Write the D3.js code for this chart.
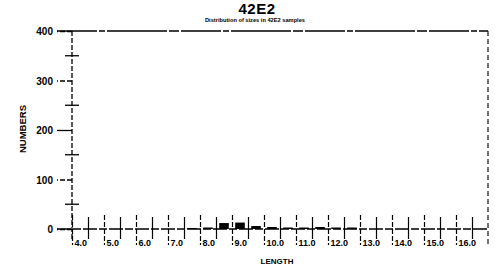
<!DOCTYPE html>
<html>
<head>
<meta charset="utf-8">
<script src="https://cdn.jsdelivr.net/npm/d3@7"></script>
<style>
    body { margin: 0; background: #fff; }
    svg { display: block; font-family: "Liberation Sans", Arial, sans-serif; }
</style>
</head>
<body>
<div class="bar-chart-container"></div>
<script>
// Data.
const binStarts = [7.5, 8.0, 8.5, 9.0, 9.5, 10.0, 10.5, 11.0, 11.5, 12.0, 12.5];
const binCounts = [2, 3, 12, 13, 6, 4, 3, 3, 4, 3, 3];
const xTickValues = [4, 4.5, 5, 5.5, 6, 6.5, 7, 7.5, 8, 8.5, 9, 9.5, 10, 10.5, 11, 11.5, 12, 12.5, 13, 13.5, 14, 14.5, 15, 15.5, 16, 16.5];
const yTickValues = [0, 100, 200, 300, 400];
const yMinorValues = [50, 150, 250, 350];
const titleText = '42E2';
const subtitleText = 'Distribution of sizes in 42E2 samples';
const xLabel = 'LENGTH';
const yLabel = 'NUMBERS';

const svg = d3
    .select('.bar-chart-container')
    .append('svg')
    .attr('width', 500)
    .attr('height', 273);

function baseDimension() {
    return { left: 72, right: 488, top: 31, bottom: 229 };
}

function ready() {
    const area = baseDimension();
    const binWidth = 0.5;

    const xScale = d3.scaleLinear()
        .domain([4, 17])
        .range([area.left, area.right]);

    const yScale = d3.scaleLinear()
        .domain([0, 400])
        .range([area.bottom, area.top]);

    drawHeader(area);
    drawAxis(xScale, yScale, area);
    drawBars(xScale, yScale, binWidth);
}

function drawHeader(area) {
    svg.append('text')
        .attr('x', 257)
        .attr('y', 14)
        .attr('text-anchor', 'middle')
        .style('font-size', '15px')
        .style('font-weight', 'bold')
        .style('letter-spacing', '0.5px')
        .text(titleText);

    svg.append('text')
        .attr('x', 205)
        .attr('y', 22)
        .attr('textLength', 100)
        .attr('lengthAdjust', 'spacingAndGlyphs')
        .style('font-size', '5px')
        .style('font-weight', 'bold')
        .text(subtitleText);

    svg.append('text')
        .attr('x', 277)
        .attr('y', 264)
        .attr('text-anchor', 'middle')
        .style('font-size', '8px')
        .style('font-weight', 'bold')
        .text(xLabel);

    svg.append('text')
        .attr('transform', 'translate(26, 129) rotate(-90)')
        .attr('text-anchor', 'middle')
        .style('font-size', '9.5px')
        .style('font-weight', 'bold')
        .text(yLabel);
}

function drawAxis(xScale, yScale, area) {
    // frame: top rule, right rule, left axis, zero line
    svg.append('line')
        .attr('x1', 57).attr('x2', area.right)
        .attr('y1', area.top).attr('y2', area.top)
        .attr('stroke', '#000').attr('stroke-width', 1.3)
        .attr('stroke-dasharray', '40,2,6,2,60,2,10,2');

    svg.append('line')
        .attr('x1', area.right).attr('x2', area.right)
        .attr('y1', area.top).attr('y2', 245)
        .attr('stroke', '#000').attr('stroke-width', 1.1)
        .attr('stroke-dasharray', '5,3');

    svg.append('line')
        .attr('x1', area.left).attr('x2', area.left)
        .attr('y1', area.top).attr('y2', 241)
        .attr('stroke', '#000').attr('stroke-width', 1.3)
        .attr('stroke-dasharray', '5,2');

    svg.append('line')
        .attr('x1', 57).attr('x2', area.right)
        .attr('y1', yScale(0)).attr('y2', yScale(0))
        .attr('stroke', '#000').attr('stroke-width', 1.4)
        .attr('stroke-dasharray', '14,2,8,2');

    // y axis
    const axisY = d3.axisLeft(yScale)
        .tickValues(yTickValues)
        .tickSize(15)
        .tickPadding(4)
        .tickFormat(d3.format('d'));

    const gy = svg.append('g')
        .attr('transform', `translate(${area.left}, 0)`)
        .call(axisY);
    gy.select('.domain').remove();
    gy.selectAll('line')
        .attr('stroke', '#000')
        .attr('stroke-width', 1.3)
        .attr('stroke-dasharray', d => d === 200 ? null : '5,2');
    gy.selectAll('text')
        .attr('dy', '0.35em')
        .style('font-size', '10px')
        .style('font-weight', 'bold')
        .style('font-family', '"Liberation Sans", Arial, sans-serif')
        .attr('fill', '#000');

    svg.append('g')
        .selectAll('line')
        .data(yMinorValues)
        .enter()
        .append('line')
        .attr('x1', area.left - 7)
        .attr('x2', area.left + 7)
        .attr('y1', d => yScale(d))
        .attr('y2', d => yScale(d))
        .attr('stroke', '#000')
        .attr('stroke-width', 1.3);

    // x axis
    const axisX = d3.axisBottom(xScale)
        .tickValues(xTickValues)
        .tickSize(0)
        .tickFormat(d => Number.isInteger(d) ? d.toFixed(1) : '');

    const gx = svg.append('g')
        .attr('transform', `translate(0, ${area.bottom})`)
        .call(axisX);
    gx.select('.domain').remove();
    gx.selectAll('line')
        .attr('y1', d => Number.isInteger(d) ? -14 : -12)
        .attr('y2', d => Number.isInteger(d) ? 16 : 10)
        .attr('stroke', '#000')
        .attr('stroke-width', 1.2)
        .attr('stroke-dasharray', d => Number.isInteger(d) ? '5,2' : null);
    gx.selectAll('text')
        .attr('y', 17)
        .attr('dy', 0)
        .attr('x', 2)
        .attr('text-anchor', 'start')
        .style('font-size', '9px')
        .style('font-weight', 'bold')
        .style('font-family', '"Liberation Sans", Arial, sans-serif')
        .attr('fill', '#000');
}

function drawBars(xScale, yScale, binWidth) {
    const pad = 0.1;
    svg.append('g')
        .selectAll('.bar')
        .data(binStarts)
        .enter()
        .append('rect')
        .attr('class', 'bar')
        .attr('x', (d, i) => xScale(d + pad))
        .attr('width', xScale(binWidth - 2 * pad) - xScale(0))
        .attr('y', (d, i) => yScale(binCounts[i]))
        .attr('height', (d, i) => yScale(0) - yScale(binCounts[i]))
        .style('fill', '#000');
}

ready();
</script>
</body>
</html>
